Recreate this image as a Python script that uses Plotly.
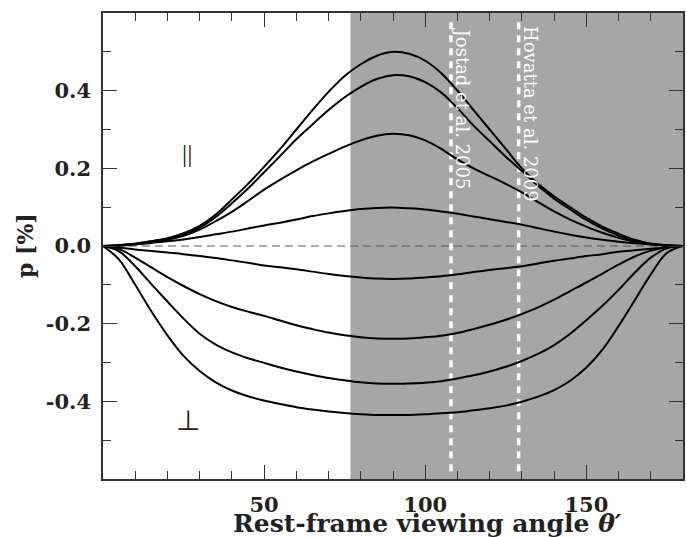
import plotly.graph_objects as go

# ---------------- data ----------------
theta = list(range(0, 181, 5))

curve_a = [0, 0.002, 0.006, 0.012, 0.02, 0.033, 0.052, 0.081, 0.12, 0.16, 0.204, 0.25,
           0.3, 0.35, 0.397, 0.438, 0.468, 0.49, 0.5, 0.495, 0.477, 0.445, 0.4, 0.35,
           0.3, 0.25, 0.2, 0.16, 0.128, 0.1, 0.073, 0.05, 0.032, 0.016, 0.006, 0.002, 0]
curve_b = [0, 0.002, 0.006, 0.012, 0.019, 0.03, 0.047, 0.075, 0.11, 0.148, 0.19, 0.232,
           0.275, 0.313, 0.35, 0.383, 0.41, 0.43, 0.44, 0.437, 0.422, 0.395, 0.355, 0.31,
           0.27, 0.23, 0.193, 0.155, 0.122, 0.094, 0.067, 0.045, 0.027, 0.013, 0.006, 0.002, 0]
curve_c = [0, 0.002, 0.005, 0.01, 0.016, 0.026, 0.042, 0.064, 0.088, 0.116, 0.145, 0.171,
           0.195, 0.217, 0.237, 0.256, 0.272, 0.284, 0.289, 0.285, 0.272, 0.25, 0.223, 0.2,
           0.18, 0.16, 0.138, 0.113, 0.089, 0.068, 0.05, 0.034, 0.021, 0.011, 0.005, 0.001, 0]
curve_d = [0, 0.001, 0.004, 0.008, 0.012, 0.017, 0.023, 0.03, 0.037, 0.045, 0.053, 0.06,
           0.068, 0.077, 0.084, 0.09, 0.095, 0.098, 0.099, 0.097, 0.094, 0.089, 0.083, 0.076,
           0.069, 0.062, 0.055, 0.046, 0.037, 0.029, 0.022, 0.016, 0.011, 0.007, 0.004, 0.001, 0]
curve_e = [0, -0.004, -0.009, -0.013, -0.017, -0.021, -0.026, -0.031, -0.037, -0.043, -0.05,
           -0.055, -0.06, -0.066, -0.072, -0.077, -0.081, -0.084, -0.085, -0.084, -0.081,
           -0.078, -0.073, -0.067, -0.062, -0.057, -0.052, -0.045, -0.038, -0.032, -0.026,
           -0.021, -0.015, -0.011, -0.007, -0.003, 0]
curve_f = [0, -0.008, -0.03, -0.055, -0.08, -0.103, -0.124, -0.142, -0.157, -0.169, -0.18,
           -0.192, -0.204, -0.214, -0.223, -0.23, -0.235, -0.238, -0.239, -0.238, -0.235,
           -0.231, -0.224, -0.214, -0.203, -0.19, -0.175, -0.158, -0.138, -0.116, -0.094,
           -0.071, -0.048, -0.027, -0.012, -0.003, 0]
curve_g = [0, -0.014, -0.052, -0.098, -0.143, -0.187, -0.226, -0.254, -0.274, -0.289, -0.301,
           -0.313, -0.323, -0.332, -0.34, -0.346, -0.351, -0.354, -0.355, -0.354, -0.352,
           -0.348, -0.341, -0.333, -0.323, -0.311, -0.296, -0.278, -0.255, -0.226, -0.191,
           -0.154, -0.113, -0.069, -0.03, -0.006, 0]
curve_h = [0, -0.035, -0.1, -0.168, -0.23, -0.283, -0.322, -0.351, -0.372, -0.387, -0.398,
           -0.407, -0.415, -0.421, -0.426, -0.43, -0.433, -0.435, -0.435, -0.435, -0.433,
           -0.431, -0.428, -0.423, -0.418, -0.411, -0.401, -0.388, -0.371, -0.347, -0.313,
           -0.267, -0.206, -0.14, -0.073, -0.018, 0]
curves = [curve_a, curve_b, curve_c, curve_d, curve_e, curve_f, curve_g, curve_h]

shade_start = 76.8
ref_angles = [108, 129]
ref_labels = ["Jostad et al. 2005", "Hovatta et al. 2009"]
ref_label_pos = [(111.7, 0.354), (132.7, 0.341)]

x_range = [0, 180]
y_range = [-0.6, 0.6]
x_tickvals = [50, 100, 150]
x_ticktext = ["50", "100", "150"]
x_minor = [10, 20, 30, 40, 60, 70, 80, 90, 110, 120, 130, 140, 160, 170]
y_tickvals = [-0.4, -0.2, 0.0, 0.2, 0.4]
y_ticktext = ["-0.4", "-0.2", "0.0", "0.2", "0.4"]
y_minor = [-0.5, -0.3, -0.1, 0.1, 0.3, 0.5]

par_label = ("||", 26.2, 0.237)
perp_label = ("⊥", 26.5, -0.45)

# ---------------- figure ----------------
SERIF = "DejaVu Serif"
fig = go.Figure()

# zero line
fig.add_trace(go.Scatter(x=[theta[0], theta[-1]], y=[0, 0], mode="lines",
                         line=dict(color="#555555", width=1, dash="8px,5px"),
                         hoverinfo="skip", showlegend=False))
# reference lines
for a in ref_angles:
    fig.add_trace(go.Scatter(x=[a, a], y=[-0.58, 0.58], mode="lines",
                             line=dict(color="white", width=3.5, dash="7px,6px"),
                             hoverinfo="skip", showlegend=False))
# curves
for c in curves:
    fig.add_trace(go.Scatter(x=theta, y=c, mode="lines",
                             line=dict(color="black", width=2, shape="spline", smoothing=1.0),
                             showlegend=False))

fig.add_shape(type="rect", xref="x", yref="y", x0=shade_start, x1=x_range[1],
              y0=y_range[0], y1=y_range[1], fillcolor="#a6a6a6", line=dict(width=0),
              layer="below")

annotations = []
for lab, (ax_, ay_) in zip(ref_labels, ref_label_pos):
    annotations.append(dict(x=ax_, y=ay_, xref="x", yref="y", text=lab, showarrow=False,
                            textangle=90, xanchor="center", yanchor="middle",
                            font=dict(family=SERIF, size=18, color="white")))
annotations.append(dict(x=par_label[1], y=par_label[2], xref="x", yref="y",
                        text=par_label[0], showarrow=False,
                        xanchor="center", yanchor="middle",
                        font=dict(family="Liberation Serif", size=26, color="#222222")))
annotations.append(dict(x=perp_label[1], y=perp_label[2], xref="x", yref="y",
                        text=perp_label[0], showarrow=False,
                        xanchor="center", yanchor="middle",
                        font=dict(family="DejaVu Sans", size=28, color="#222222")))
# axis titles
annotations.append(dict(x=0.56, y=0, xref="paper", yref="paper", yshift=-44,
                        text="Rest-frame viewing angle <i>θ′</i>", showarrow=False,
                        xanchor="center", yanchor="middle",
                        font=dict(family=SERIF, size=25, color="#222222", weight="bold")))
annotations.append(dict(x=0, y=0.5, xref="paper", yref="paper", xshift=-78,
                        text="p [%]", showarrow=False, textangle=-90,
                        xanchor="center", yanchor="middle",
                        font=dict(family=SERIF, size=22, color="#222222", weight="bold")))

axis_common = dict(showline=True, linecolor="#333333", linewidth=1.5, mirror="allticks",
                   ticks="inside", ticklen=14, tickwidth=1.2, tickcolor="#333333",
                   showgrid=False, zeroline=False, ticklabelstandoff=6,
                   tickfont=dict(family=SERIF, size=21, color="#222222", weight="bold"))

fig.update_layout(
    width=687, height=537,
    margin=dict(l=103, r=2, t=13, b=58),
    plot_bgcolor="white", paper_bgcolor="white",
    xaxis=dict(range=x_range, tickmode="array", tickvals=x_tickvals, ticktext=x_ticktext,
               minor=dict(tickmode="array", tickvals=x_minor, ticks="inside", ticklen=8,
                          tickwidth=1.2, tickcolor="#333333", showgrid=False),
               **axis_common),
    yaxis=dict(range=y_range, tickmode="array", tickvals=y_tickvals, ticktext=y_ticktext,
               minor=dict(tickmode="array", tickvals=y_minor, ticks="inside", ticklen=8,
                          tickwidth=1.2, tickcolor="#333333", showgrid=False),
               **axis_common),
    annotations=annotations,
    showlegend=False,
)

fig.write_html("out.html", config={"displayModeBar": False},
               post_script="document.body.style.margin='0';"
                           "document.body.style.overflow='hidden';"
                           "document.documentElement.style.overflow='hidden';")
